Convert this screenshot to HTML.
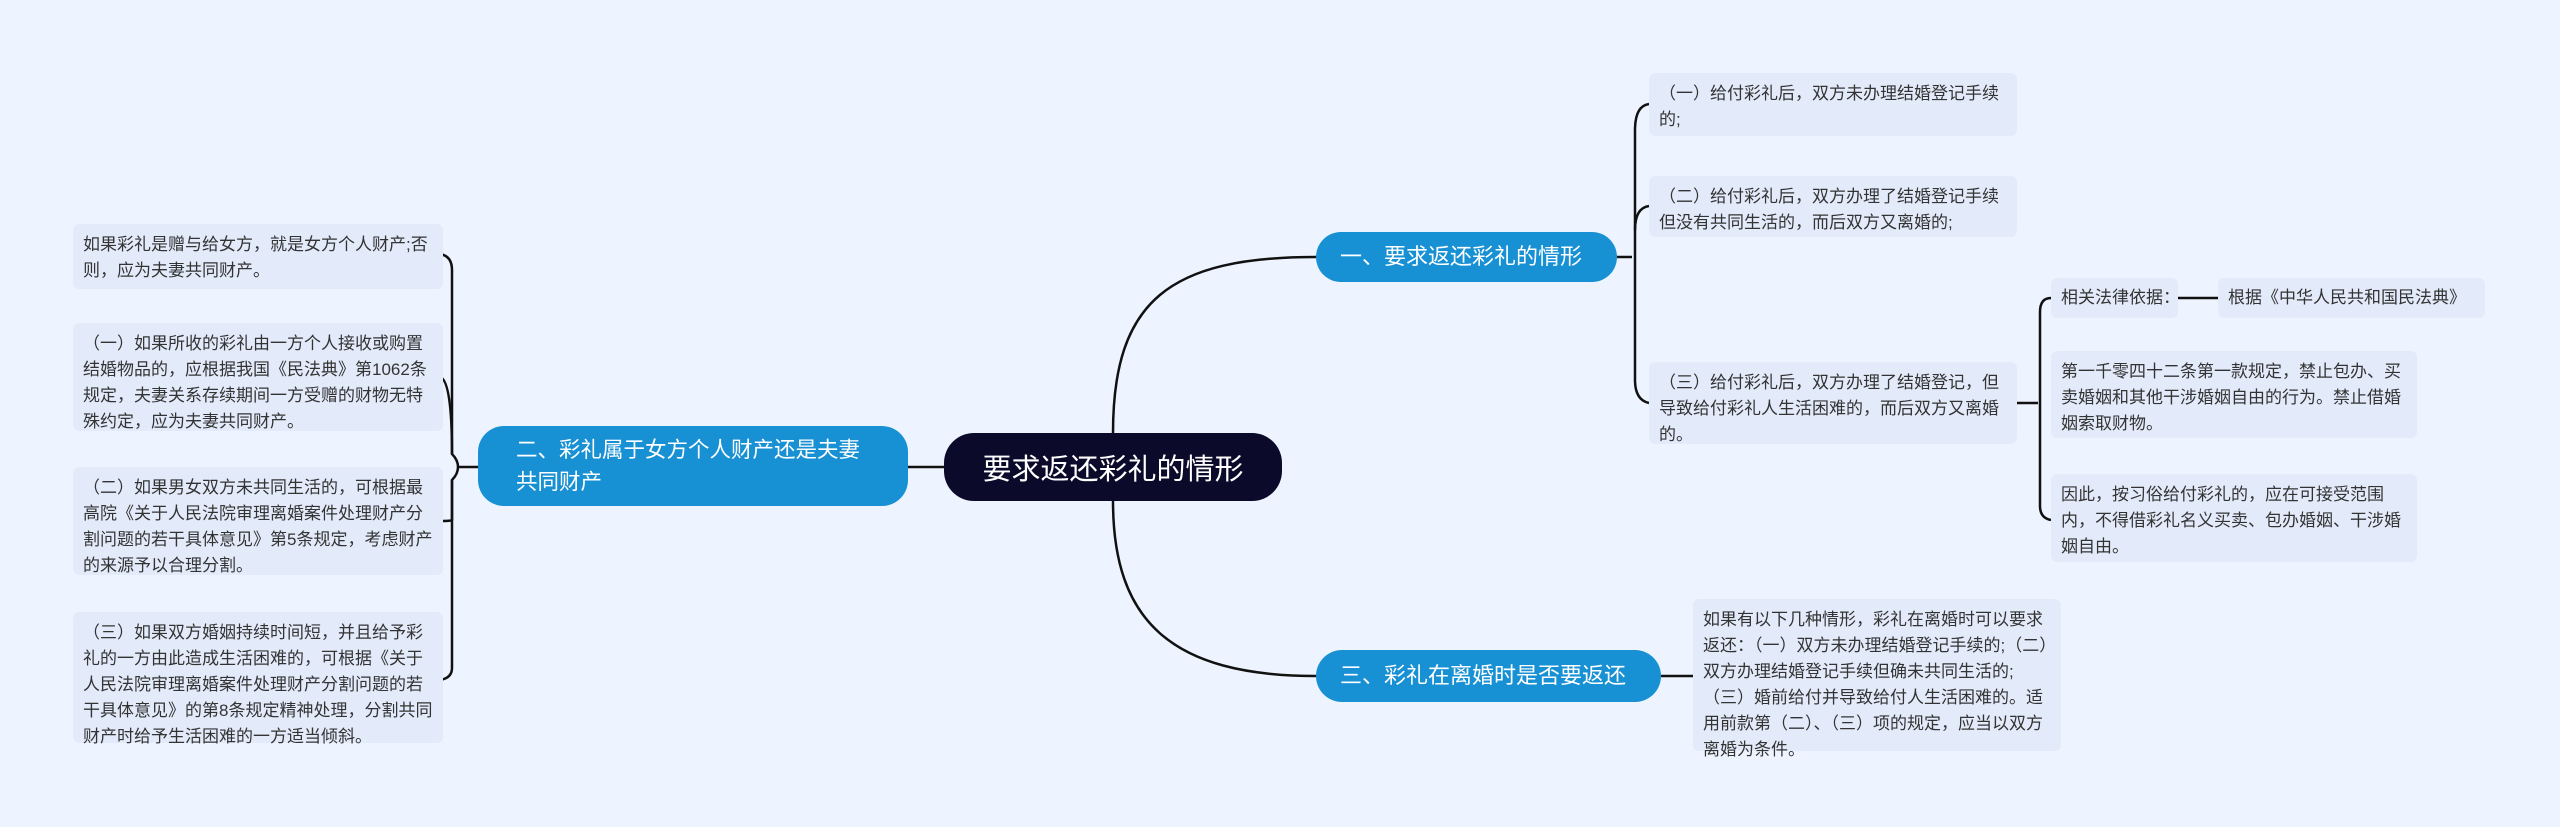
<!DOCTYPE html>
<html><head><meta charset="utf-8"><style>
body{margin:0;width:2560px;height:827px;background:#eef4ff;position:relative;overflow:hidden;font-family:"Liberation Sans","Noto Sans CJK SC",sans-serif;}
.b{position:absolute;background:#e3ebfb;border-radius:6px;color:#333;font-size:17px;line-height:26px;padding:8px 9px 8px 10px;box-sizing:border-box;}
.n{position:absolute;background:#1790d4;color:#fff;border-radius:26px;font-size:22px;box-sizing:border-box;display:flex;align-items:center;padding:0 38px;line-height:32px;}
svg{position:absolute;left:0;top:0;}
</style></head><body>
<svg width="2560" height="827" fill="none" stroke="#111" stroke-width="2.5">
<path d="M944 467 H908"/>
<path d="M478 467 H458"/>
<path d="M458 467 Q458 460 452 454 L452 270 Q452 256 440 254"/>
<path d="M452 454 Q452 380 440 377"/>
<path d="M458 467 Q458 474 452 480 L452 520 Q452 521 440 521"/>
<path d="M452 480 L452 668 Q452 678 440 680"/>
<path d="M1113 433 C1113 300 1170 257 1316 257"/>
<path d="M1113 501 C1113 620 1170 676 1316 676"/>
<path d="M1617 257 H1632"/>
<path d="M1649 104 Q1635 106 1635 130 L1635 380 Q1635 400 1649 403"/>
<path d="M1649 206 Q1635 208 1635 230"/>
<path d="M2017 403 H2038"/>
<path d="M2051 298 Q2040 298 2040 312 L2040 506 Q2040 518 2051 520"/>
<path d="M2178 298 H2218"/>
<path d="M1661 676 H1693"/>
</svg>
<div style="position:absolute;left:944px;top:433px;width:338px;height:68px;background:#0c0a2a;border-radius:30px;color:#fff;font-size:29px;display:flex;align-items:center;justify-content:center;">要求返还彩礼的情形</div>
<div class="n" style="left:478px;top:426px;width:430px;height:80px;font-size:21.5px;">二、彩礼属于女方个人财产还是夫妻共同财产</div>
<div class="n" style="left:1316px;top:232px;width:301px;height:50px;padding:0 24px;">一、要求返还彩礼的情形</div>
<div class="n" style="left:1316px;top:650px;width:345px;height:52px;padding:0 24px;">三、彩礼在离婚时是否要返还</div>
<div class="b" style="left:73px;top:224px;width:370px;height:65px;">如果彩礼是赠与给女方，就是女方个人财产;否则，应为夫妻共同财产。</div>
<div class="b" style="left:73px;top:323px;width:370px;height:108px;">（一）如果所收的彩礼由一方个人接收或购置结婚物品的，应根据我国《民法典》第1062条规定，夫妻关系存续期间一方受赠的财物无特殊约定，应为夫妻共同财产。</div>
<div class="b" style="left:73px;top:467px;width:370px;height:108px;">（二）如果男女双方未共同生活的，可根据最高院《关于人民法院审理离婚案件处理财产分割问题的若干具体意见》第5条规定，考虑财产的来源予以合理分割。</div>
<div class="b" style="left:73px;top:612px;width:370px;height:131px;">（三）如果双方婚姻持续时间短，并且给予彩礼的一方由此造成生活困难的，可根据《关于人民法院审理离婚案件处理财产分割问题的若干具体意见》的第8条规定精神处理，分割共同财产时给予生活困难的一方适当倾斜。</div>
<div class="b" style="left:1649px;top:73px;width:368px;height:63px;">（一）给付彩礼后，双方未办理结婚登记手续的;</div>
<div class="b" style="left:1649px;top:176px;width:368px;height:61px;">（二）给付彩礼后，双方办理了结婚登记手续但没有共同生活的，而后双方又离婚的;</div>
<div class="b" style="left:1649px;top:362px;width:368px;height:82px;">（三）给付彩礼后，双方办理了结婚登记，但导致给付彩礼人生活困难的，而后双方又离婚的。</div>
<div class="b" style="left:2051px;top:278px;width:127px;height:40px;line-height:24px;white-space:nowrap;">相关法律依据：</div>
<div class="b" style="left:2218px;top:278px;width:267px;height:40px;line-height:24px;white-space:nowrap;">根据《中华人民共和国民法典》</div>
<div class="b" style="left:2051px;top:351px;width:366px;height:87px;">第一千零四十二条第一款规定，禁止包办、买卖婚姻和其他干涉婚姻自由的行为。禁止借婚姻索取财物。</div>
<div class="b" style="left:2051px;top:474px;width:366px;height:88px;">因此，按习俗给付彩礼的，应在可接受范围内，不得借彩礼名义买卖、包办婚姻、干涉婚姻自由。</div>
<div class="b" style="left:1693px;top:599px;width:368px;height:152px;">如果有以下几种情形，彩礼在离婚时可以要求返还：（一）双方未办理结婚登记手续的;（二）双方办理结婚登记手续但确未共同生活的;（三）婚前给付并导致给付人生活困难的。适用前款第（二）、（三）项的规定，应当以双方离婚为条件。</div>
</body></html>
